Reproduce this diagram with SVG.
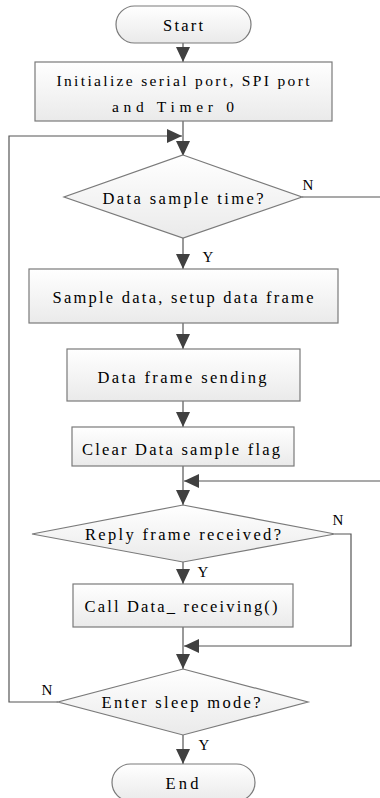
<svg xmlns="http://www.w3.org/2000/svg" width="380" height="798" viewBox="0 0 380 798">
<style>
.shape{stroke:#7a7a7a;stroke-width:1.2;fill:url(#g)}
.t{font-family:"Liberation Serif","Times New Roman",serif;font-size:16.5px;fill:#000;text-anchor:middle}
.lb{font-family:"Liberation Serif","Times New Roman",serif;font-size:15px;fill:#000;text-anchor:middle}
.c{stroke:#555;stroke-width:1.2;fill:none}
.ca{stroke:#555;stroke-width:1.2;fill:none;marker-end:url(#ah)}
</style>
<defs>
<linearGradient id="g" x1="0" y1="0" x2="0" y2="1">
<stop offset="0" stop-color="#ffffff"/>
<stop offset="1" stop-color="#eaeaea"/>
</linearGradient>
<marker id="ah" markerUnits="userSpaceOnUse" markerWidth="16" markerHeight="14" viewBox="0 0 16 14" refX="15" refY="7" orient="auto">
<path d="M0,0 L15,7 L0,14 Z" fill="#404040"/>
</marker>
</defs>
<rect width="380" height="798" fill="#ffffff"/>
<g id="connectors">
<line class="ca" x1="183" y1="43" x2="183" y2="62"/>
<line class="ca" x1="183" y1="121" x2="183" y2="156"/>
<polyline class="ca" points="58,702 9,702 9,136 182,136"/>
<line class="c" x1="302" y1="197" x2="380" y2="197"/>
<line class="ca" x1="183" y1="238" x2="183" y2="269"/>
<line class="ca" x1="183" y1="323" x2="183" y2="349"/>
<line class="ca" x1="183" y1="401" x2="183" y2="427"/>
<line class="ca" x1="183" y1="466" x2="183" y2="505"/>
<line class="ca" x1="380" y1="481" x2="184" y2="481"/>
<line class="ca" x1="183" y1="562" x2="183" y2="584"/>
<polyline class="ca" points="335,534 351,534 351,646 184,646"/>
<line class="ca" x1="183" y1="627" x2="183" y2="669"/>
<line class="ca" x1="183" y1="735" x2="183" y2="764"/>
<text class="lb" x="308" y="190">N</text>
<text class="lb" x="208" y="262">Y</text>
<text class="lb" x="338" y="525">N</text>
<text class="lb" x="203" y="577">Y</text>
<text class="lb" x="47" y="695">N</text>
<text class="lb" x="204" y="750">Y</text>
</g>
<g id="start">
<rect class="shape" x="116" y="6" width="135" height="37" rx="18.5"/>
<text class="t" x="183" y="31" textLength="40" lengthAdjust="spacing">Start</text>
</g>
<g id="init">
<rect class="shape" x="35" y="62" width="297" height="59"/>
<text class="t" x="183" y="86" style="font-size:15.5px" textLength="253" lengthAdjust="spacing">Initialize serial port, SPI port</text>
<text class="t" x="173" y="112" style="font-size:15.5px" textLength="122" lengthAdjust="spacing">and Timer 0</text>
</g>
<g id="sampleTime">
<polygon class="shape" points="183,155 302,197 183,238 64,197"/>
<text class="t" x="183" y="204" textLength="161" lengthAdjust="spacing">Data sample time?</text>
</g>
<g id="sampleData">
<rect class="shape" x="29" y="269" width="309" height="54"/>
<text class="t" x="183" y="303" textLength="261" lengthAdjust="spacing">Sample data, setup data frame</text>
</g>
<g id="sending">
<rect class="shape" x="67" y="349" width="233" height="52"/>
<text class="t" x="182" y="383" textLength="169" lengthAdjust="spacing">Data frame sending</text>
</g>
<g id="clear">
<rect class="shape" x="72" y="427" width="222" height="39"/>
<text class="t" x="181" y="455" textLength="198" lengthAdjust="spacing">Clear Data sample flag</text>
</g>
<g id="reply">
<polygon class="shape" points="183,505 335,534 183,562 32,534"/>
<text class="t" x="183" y="540" textLength="196" lengthAdjust="spacing">Reply frame received?</text>
</g>
<g id="call">
<rect class="shape" x="73" y="584" width="220" height="43"/>
<text class="t" x="181" y="612" textLength="193" lengthAdjust="spacing">Call Data_ receiving()</text>
</g>
<g id="sleep">
<polygon class="shape" points="183,669 308,702 183,735 58,702"/>
<text class="t" x="181" y="708" textLength="159" lengthAdjust="spacing">Enter sleep mode?</text>
</g>
<g id="end">
<rect class="shape" x="112" y="764" width="143" height="37" rx="18.5"/>
<text class="t" x="182" y="789" textLength="33" lengthAdjust="spacing">End</text>
</g>
</svg>
